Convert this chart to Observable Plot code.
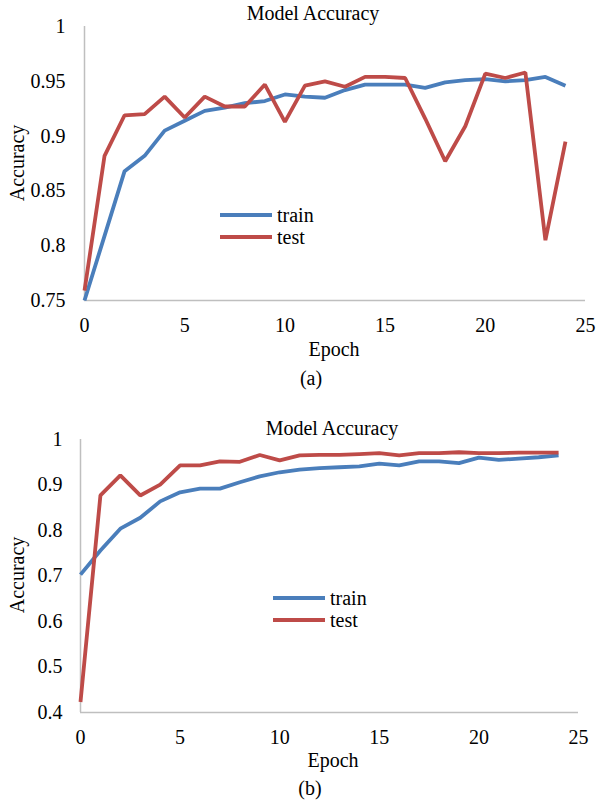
<!DOCTYPE html>
<html>
<head>
<meta charset="utf-8">
<script src="https://cdn.jsdelivr.net/npm/d3@7"></script>
<script src="https://cdn.jsdelivr.net/npm/@observablehq/plot@0.6"></script>
<style>
  html, body { margin: 0; padding: 0; background: #fff; }
  #page { position: relative; width: 596px; height: 802px; font-family: "Liberation Serif", "Times New Roman", serif; color: #000; }
  .panel { position: absolute; left: 0; width: 596px; }
  .txt { position: absolute; font-size: 20px; white-space: nowrap; transform: translate(-50%, -50%); line-height: 1; }
  .legend { position: absolute; font-size: 20px; line-height: 1; }
  .legend .row { position: relative; height: 22px; }
  .legend .sw { position: absolute; left: 0; width: 52px; height: 4px; top: 50%; transform: translateY(-50%); }
  .legend .lb { position: absolute; white-space: nowrap; top: 50%; transform: translateY(-52%); }
</style>
</head>
<body>
<div id="page"></div>
<script>
// ---- data ----
const epochs = [0,1,2,3,4,5,6,7,8,9,10,11,12,13,14,15,16,17,18,19,20,21,22,23,24];
const seriesNames = ["train", "test"];
const seriesColors = ["#4a7ebb", "#be4b48"];

const aTrain = [0.750,0.809,0.868,0.882,0.905,0.914,0.923,0.926,0.930,0.932,0.938,0.936,0.935,0.942,0.947,0.947,0.947,0.944,0.949,0.951,0.952,0.950,0.951,0.954,0.946];
const aTest  = [0.759,0.882,0.919,0.920,0.936,0.917,0.936,0.927,0.927,0.947,0.913,0.946,0.950,0.945,0.954,0.954,0.953,0.916,0.877,0.909,0.957,0.953,0.958,0.805,0.895];

const bTrain = [0.703,0.756,0.804,0.828,0.864,0.884,0.892,0.892,0.906,0.919,0.928,0.934,0.937,0.939,0.941,0.947,0.943,0.952,0.952,0.948,0.960,0.955,0.958,0.961,0.965];
const bTest  = [0.423,0.877,0.921,0.877,0.901,0.943,0.943,0.952,0.951,0.966,0.954,0.965,0.966,0.966,0.968,0.970,0.965,0.970,0.970,0.972,0.970,0.970,0.971,0.971,0.971];

const xTicks = [0,5,10,15,20,25];
const aYTicks = [0.75,0.8,0.85,0.9,0.95,1];
const bYTicks = [0.4,0.5,0.6,0.7,0.8,0.9,1];

const titleText = "Model Accuracy";
const xLabel = "Epoch";
const yLabel = "Accuracy";

// ---- helpers ----
function rows(train, test) {
  const out = [];
  epochs.forEach((e, i) => out.push({epoch: e, acc: train[i], series: seriesNames[0]}));
  epochs.forEach((e, i) => out.push({epoch: e, acc: test[i], series: seriesNames[1]}));
  return out;
}

function makePanel(cfg) {
  const data = rows(cfg.train, cfg.test);
  const chart = Plot.plot({
    width: 596,
    height: cfg.height,
    marginLeft: cfg.ml, marginRight: cfg.mr, marginTop: cfg.mt, marginBottom: cfg.mb,
    style: {fontFamily: '"Liberation Serif", "Times New Roman", serif', fontSize: "20px", color: "#000", background: "transparent"},
    x: {domain: [0, 25], ticks: xTicks, tickFormat: d => String(d), tickSize: 0, tickPadding: cfg.xPad, label: null},
    y: {domain: cfg.yDomain, ticks: cfg.yTicks, tickFormat: d => String(d), tickSize: 0, tickPadding: cfg.yPad, label: null},
    color: {domain: seriesNames, range: seriesColors},
    marks: [
      Plot.ruleY([cfg.yDomain[0]], {stroke: "#bfbfbf", strokeWidth: 1.5}),
      Plot.ruleX([0], {stroke: "#bfbfbf", strokeWidth: 1.5}),
      Plot.line(data, {x: "epoch", y: "acc", z: "series", stroke: "series", strokeWidth: 3.8, strokeLinejoin: "miter", strokeLinecap: "butt"})
    ]
  });
  chart.querySelectorAll("text").forEach(t => { t.setAttribute("fill", "#000"); });
  return chart;
}

const page = document.getElementById("page");

function addText(str, x, y, rot) {
  const d = document.createElement("div");
  d.className = "txt";
  d.textContent = str;
  d.style.left = x + "px";
  d.style.top = y + "px";
  if (rot) d.style.transform = "translate(-50%, -50%) rotate(-90deg)";
  page.appendChild(d);
}

function addLegend(x, y) {
  const lg = document.createElement("div");
  lg.className = "legend";
  lg.style.left = x + "px";
  lg.style.top = y + "px";
  seriesNames.forEach((n, i) => {
    const r = document.createElement("div");
    r.className = "row";
    const sw = document.createElement("div");
    sw.className = "sw";
    sw.style.background = seriesColors[i];
    const lb = document.createElement("div");
    lb.className = "lb";
    lb.style.left = "57px";
    lb.textContent = n;
    r.appendChild(sw); r.appendChild(lb);
    lg.appendChild(r);
  });
  page.appendChild(lg);
}

// ---- panel (a) ----
const pa = document.createElement("div");
pa.className = "panel"; pa.style.top = "0px";
pa.appendChild(makePanel({height: 400, ml: 84, mr: 11, mt: 26, mb: 100, yDomain: [0.75, 1], yTicks: aYTicks, train: aTrain, test: aTest, xPad: 17, yPad: 19}));
page.appendChild(pa);
addText(titleText, 313, 13);
addText(xLabel, 334, 349);
addText("(a)", 311, 378);
addText(yLabel, 17, 163, true);
addLegend(220, 204);

// ---- panel (b) ----
const pb = document.createElement("div");
pb.className = "panel"; pb.style.top = "400px";
pb.appendChild(makePanel({height: 402, ml: 80, mr: 18, mt: 39, mb: 90, yDomain: [0.4, 1], yTicks: bYTicks, train: bTrain, test: bTest, xPad: 17, yPad: 18}));
page.appendChild(pb);
addText(titleText, 332, 428);
addText(xLabel, 333, 760);
addText("(b)", 310, 788);
addText(yLabel, 17, 575, true);
addLegend(273, 587);
</script>
</body>
</html>
